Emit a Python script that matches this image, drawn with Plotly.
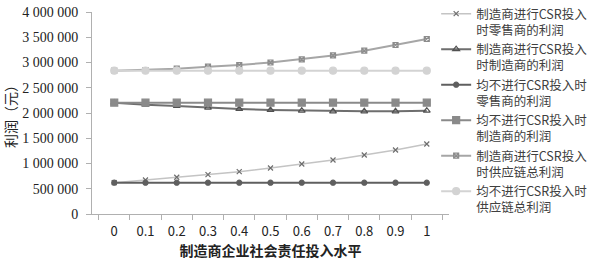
import plotly.graph_objects as go

categories = ["0", "0.1", "0.2", "0.3", "0.4", "0.5", "0.6", "0.7", "0.8", "0.9", "1"]

retailer_csr = [620000, 673000, 727000, 779000, 838000, 911000, 990000, 1069000, 1168000, 1267000, 1386000]
manufacturer_csr = [2205000, 2164000, 2139000, 2105000, 2079000, 2059000, 2046000, 2034000, 2034000, 2034000, 2046000]
retailer_none = [620000] * 11
manufacturer_none = [2205000] * 11
total_csr = [2838000, 2851000, 2877000, 2917000, 2950000, 3000000, 3063000, 3140000, 3234000, 3347000, 3465000]
total_none = [2838000] * 11

names = [
    "制造商进行CSR投入<br>时零售商的利润",
    "制造商进行CSR投入<br>时制造商的利润",
    "均不进行CSR投入时<br>零售商的利润",
    "均不进行CSR投入时<br>制造商的利润",
    "制造商进行CSR投入<br>时供应链总利润",
    "均不进行CSR投入时<br>供应链总利润",
]

ytickvals = [0, 500000, 1000000, 1500000, 2000000, 2500000, 3000000, 3500000, 4000000]
yticktext = ["0", "500 000", "1 000 000", "1 500 000", "2 000 000", "2 500 000",
             "3 000 000", "3 500 000", "4 000 000"]

styles = [
    (retailer_csr, "#c4c4c4", 1.5, "x-thin-open", "#6e6e6e", 5),
    (manufacturer_csr, "#6e6e6e", 2, "triangle-up-open", "#505050", 6),
    (retailer_none, "#5f5f5f", 2, "circle", "#5f5f5f", 5),
    (manufacturer_none, "#8a8a8a", 2, "square", "#8a8a8a", 7),
    (total_csr, "#a6a6a6", 2, "square-x-open", "#8c8c8c", 5),
    (total_none, "#d3d3d3", 2, "circle", "#d3d3d3", 7),
]

fig = go.Figure()
for (vals, lc, lw, sym, mc, ms), nm in zip(styles, names):
    fig.add_trace(go.Scatter(
        x=categories, y=vals, name=nm, mode="lines+markers",
        line=dict(color=lc, width=lw),
        marker=dict(symbol=sym, color=mc, size=ms, line=dict(color=mc, width=1.2)),
    ))

fig.update_layout(
    width=596, height=267,
    margin=dict(l=92, r=147, t=12, b=53, autoexpand=False),
    paper_bgcolor="white", plot_bgcolor="white",
    font=dict(family="Noto Sans CJK SC", size=13, color="#333333"),
    legend=dict(
        x=0.964, y=1.064, xanchor="left", yanchor="top",
        valign="top", maxheight=400,
        font=dict(family="Noto Sans CJK SC", size=12.5, color="#404040"),
        bgcolor="rgba(0,0,0,0)", tracegroupgap=0, itemwidth=30,
    ),
    xaxis=dict(
        type="category", categoryorder="array", categoryarray=categories,
        showline=True, linecolor="#b0b0b0", linewidth=1, automargin=False,
        ticks="outside", tickson="boundaries", ticklen=5, tickcolor="#b0b0b0",
        showgrid=False, zeroline=False, ticklabelstandoff=5,
        tickfont=dict(family="Noto Sans CJK SC", size=13, color="#222222"),
        title=dict(text="<b>制造商企业社会责任投入水平</b>", standoff=4,
                   font=dict(family="Noto Sans CJK SC", size=14, color="#222222")),
    ),
    yaxis=dict(
        range=[0, 4000000], tickvals=ytickvals, ticktext=yticktext,
        showline=True, linecolor="#b0b0b0", linewidth=1, automargin=False,
        ticks="outside", ticklen=5, tickcolor="#b0b0b0",
        showgrid=False, zeroline=False, ticklabelstandoff=5,
        tickfont=dict(family="Liberation Serif, serif", size=14, color="#222222"),
        title=dict(text="利润（元）", standoff=6,
                   font=dict(family="Noto Sans CJK SC", size=14, color="#222222")),
    ),
    showlegend=True,
)

fig.write_html("out.html")
